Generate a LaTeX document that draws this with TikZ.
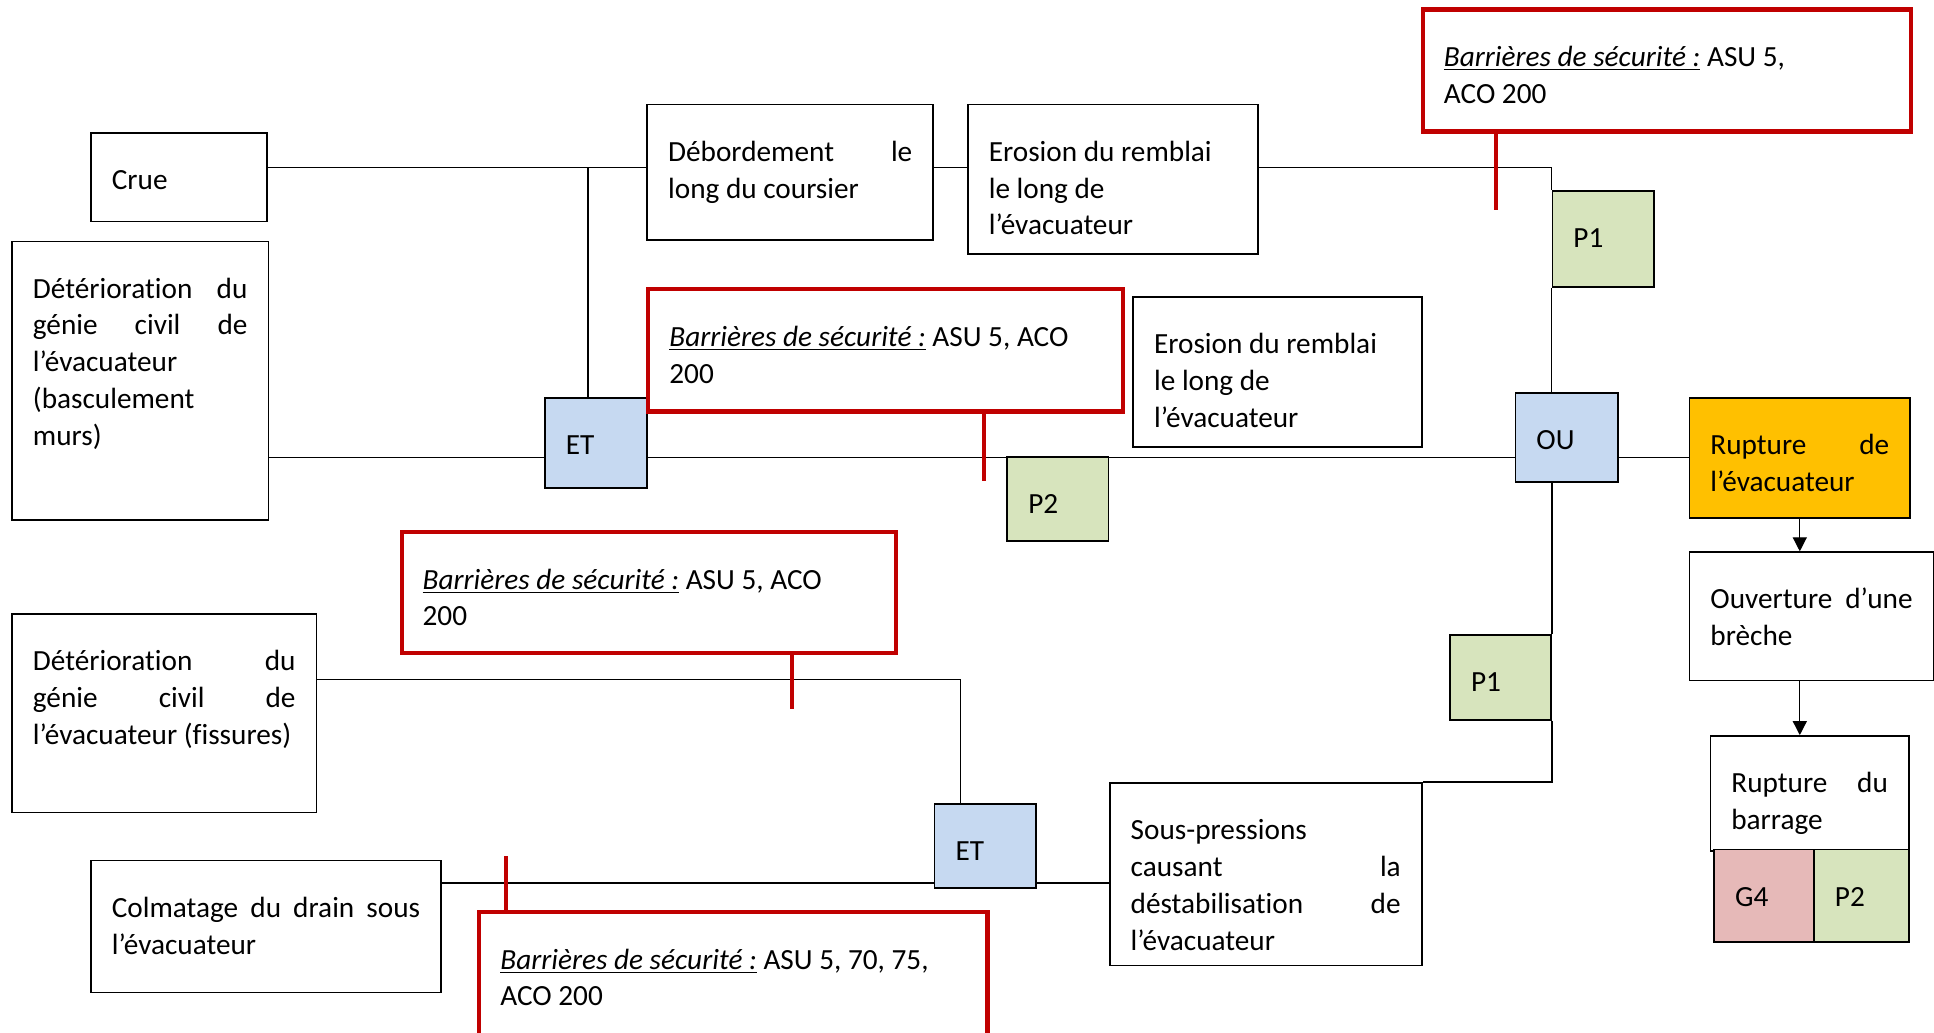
\documentclass[tikz,border=0pt]{standalone}
\usepackage{fontspec}
\setmainfont[Ligatures=NoCommon]{Carlito}
\usepackage{tikz}
\usetikzlibrary{arrows.meta}

\definecolor{barred}{HTML}{C00000}
\definecolor{gateblue}{HTML}{C6D9F1}
\definecolor{pgreen}{HTML}{D7E4BD}
\definecolor{gpink}{HTML}{E6B9B8}
\definecolor{topevt}{HTML}{FFC000}

% text of a box: width, height, lines (top aligned, as in the text boxes)
\newcommand{\evtxt}[3]{\parbox[t][#2][t]{\dimexpr#1-0.68cm\relax}{\rule{0pt}{0.92cm}#3}}
\hbadness=10000
\hfuzz=2pt

\begin{document}
\begin{tikzpicture}[x=0.02cm, y=-0.02cm,
    evt/.style={draw, line width=0.8pt, anchor=north west, inner xsep=0.34cm, inner ysep=0pt, font=\fontsize{13.5}{17}\selectfont},
    gate/.style={evt, fill=gateblue},
    prob/.style={evt, fill=pgreen},
    barr/.style={evt, draw=barred, line width=1.9pt},
    link/.style={line width=0.6pt},
    stem/.style={draw=barred, line width=1.9pt},
    arr/.style={line width=0.6pt, -{Triangle[width=6.5pt,length=6.5pt]}}]

    \useasboundingbox (0,0) rectangle (1568,837);

    % Events
    \node[evt] (crue) at (73,107) {\evtxt{2.86cm}{1.44cm}{Crue}};
    \node[evt] (detb) at (9,195) {\evtxt{4.16cm}{4.52cm}{Détérioration\hfill du\\génie\hfill civil\hfill de\\l’évacuateur\\(basculement\\murs)}};
    \node[evt] (debord) at (524,84) {\evtxt{4.64cm}{2.20cm}{Débordement\hfill le\\long du coursier}};
    \node[evt] (eros1) at (784,84) {\evtxt{4.70cm}{2.42cm}{Erosion du remblai\\le long de\\l’évacuateur}};
    \node[evt] (eros2) at (918,240) {\evtxt{4.68cm}{2.44cm}{Erosion du remblai\\le long de\\l’évacuateur}};
    \node[evt] (detf) at (9,497) {\evtxt{4.94cm}{3.22cm}{Détérioration\hfill du\\génie\hfill civil\hfill de\\\mbox{l’évacuateur (fissures)}}};
    \node[evt] (colm) at (73,697) {\evtxt{5.68cm}{2.14cm}{Colmatage\hfill du\hfill drain\hfill sous\\l’évacuateur}};
    \node[evt] (sous) at (899,634) {\evtxt{5.06cm}{2.96cm}{Sous-pressions\\causant\hfill la\\déstabilisation\hfill de\\l’évacuateur}};
    \node[evt, fill=topevt] (rupe) at (1369,322) {\evtxt{3.58cm}{1.94cm}{Rupture\hfill de\\l’évacuateur}};
    \node[evt] (ouv) at (1369,447) {\evtxt{3.96cm}{2.08cm}{Ouverture\hfill d’une\\brèche}};
    \node[evt] (rupb) at (1386,596) {\evtxt{3.22cm}{1.86cm}{Rupture\hfill du\\barrage}};

    % Gates and grades
    \node[gate] (et1) at (441,322) {\evtxt{1.66cm}{1.46cm}{ET}};
    \node[gate] (ou) at (1228,318) {\evtxt{1.66cm}{1.44cm}{OU}};
    \node[gate] (et2) at (757,651) {\evtxt{1.64cm}{1.36cm}{ET}};
    \node[prob] (p1a) at (1258,154) {\evtxt{1.64cm}{1.56cm}{P1}};
    \node[prob] (p2a) at (816,370) {\evtxt{1.64cm}{1.36cm}{P2}};
    \node[prob] (p1b) at (1175,514) {\evtxt{1.64cm}{1.38cm}{P1}};
    \node[evt, fill=gpink] (g4) at (1389,688) {\evtxt{1.62cm}{1.50cm}{G4}};
    \node[prob] (p2b) at (1470,688) {\evtxt{1.54cm}{1.50cm}{P2}};

    % Safety barriers
    \node[barr] (bar1) at (1152,6) {\evtxt{7.92cm}{1.98cm}{\underline{\textit{Barrières de sécurité :}} ASU 5,\\ACO 200}};
    \node[barr] (bar2) at (524,233) {\evtxt{7.70cm}{1.98cm}{\underline{\textit{Barrières de sécurité :}} ASU 5, ACO\\200}};
    \node[barr] (bar3) at (324,430) {\evtxt{8.02cm}{1.96cm}{\underline{\textit{Barrières de sécurité :}} ASU 5, ACO\\200}};
    \node[barr] (bar4) at (387,738) {\evtxt{8.24cm}{2.10cm}{\underline{\textit{Barrières de sécurité :}} ASU 5, 70, 75,\\ACO 200}};

    % Upper branch
    \coordinate (ytop) at (0,136);
    \draw[link] (crue.east |- ytop) -- (debord.west |- ytop);
    \draw[link] ([xshift=-0.13cm]et1.north) -- ([xshift=-0.13cm]et1.north |- ytop);
    \draw[link] (debord.east |- ytop) -- (eros1.west |- ytop);
    \draw[link] (eros1.east |- ytop) -| (p1a.north west);
    \draw[link] (p1a.south west) -- (p1a.south west |- ou.north);

    % Main line
    \draw[link] (detb.east |- rupe.west) -- (et1.west |- rupe.west);
    \draw[link] (et1.east |- rupe.west) -- (ou.west |- rupe.west);
    \draw[link] (ou.east |- rupe.west) -- (rupe.west);

    % Lower branch
    \coordinate (j3) at (779,551);
    \coordinate (ylow) at (0,716);
    \draw[link] (detf.east |- j3) -| (j3 |- et2.north);
    \draw[link] (colm.east |- ylow) -- (et2.west |- ylow);
    \draw[link] (et2.east |- ylow) -- (sous.west |- ylow);
    \draw[link] (p1b.north east |- ou.south) -- (p1b.north east);
    \draw[link] (p1b.south east) |- (sous.north east);

    % Consequences
    \draw[arr] (rupe.south) -- (rupe.south |- ouv.north);
    \draw[arr] (ouv.south -| rupe.south) -- (rupe.south |- rupb.north);

    % Barrier stems
    \coordinate (s1) at (1213,170);
    \coordinate (s2) at (798,390);
    \coordinate (s3) at (642,575);
    \coordinate (s4) at (410,694);
    \draw[stem] (bar1.south -| s1) -- (s1);
    \draw[stem] (bar2.south -| s2) -- (s2);
    \draw[stem] (bar3.south -| s3) -- (s3);
    \draw[stem] (bar4.north -| s4) -- (s4);
\end{tikzpicture}
\end{document}
